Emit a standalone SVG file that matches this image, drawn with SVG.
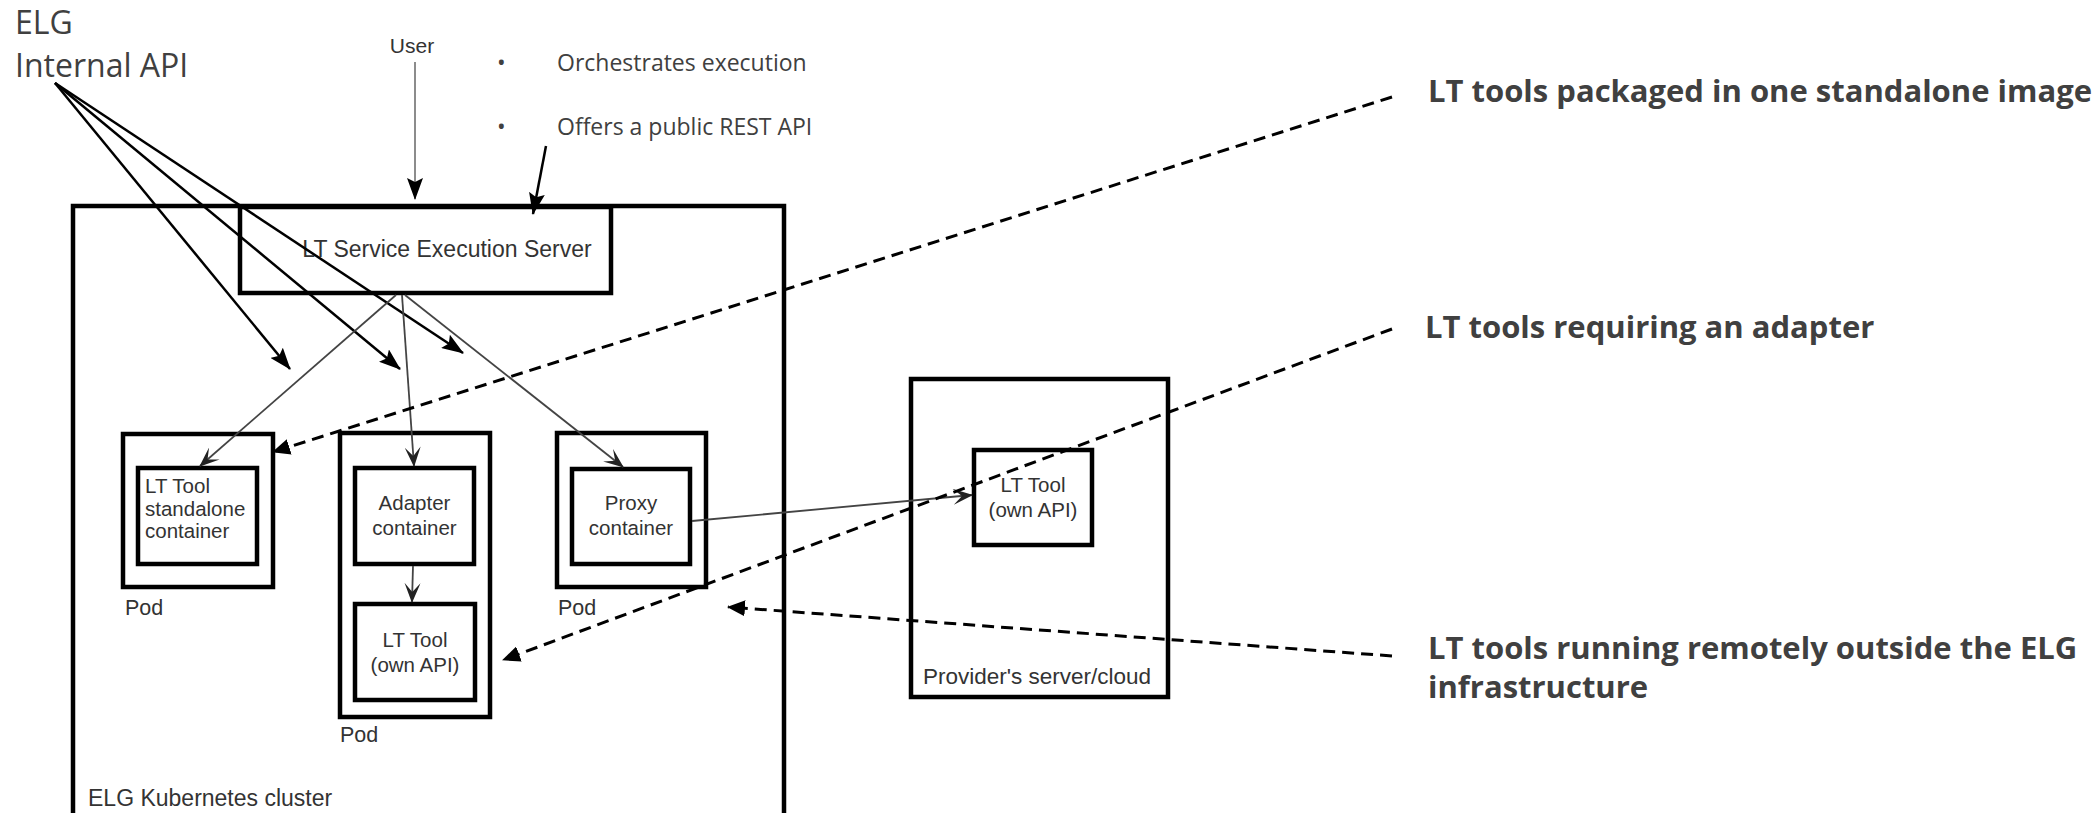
<svg xmlns="http://www.w3.org/2000/svg" width="2098" height="813" viewBox="0 0 2098 813">
<defs>
<style>
.box{fill:none;stroke:#000;stroke-width:4.5}
.dia{font-family:"Liberation Sans",Arial,sans-serif;fill:#333}
.note{font-family:"Open Sans",sans-serif;fill:#404040}
.bold{font-family:"Open Sans",sans-serif;font-weight:bold;fill:#404040;font-size:31px}
.api{stroke:#000;stroke-width:2.5;fill:none}
.flow{stroke:#444;stroke-width:1.8;fill:none}
.dash{stroke:#000;stroke-width:3;fill:none;stroke-dasharray:12 7}
</style>
<marker id="tri" markerUnits="userSpaceOnUse" viewBox="0 0 22 16" markerWidth="22" markerHeight="16" refX="21" refY="8" orient="auto">
<path d="M0,0 L22,8 L0,16 L4,8 Z" fill="#000"/>
</marker>
<marker id="open" markerUnits="userSpaceOnUse" viewBox="0 0 20 16" markerWidth="20" markerHeight="16" refX="19" refY="8" orient="auto">
<path d="M0,0 L20,8 L0,16 L9,8 Z" fill="#222"/>
</marker>
<marker id="dtri" markerUnits="userSpaceOnUse" viewBox="0 0 18 16" markerWidth="18" markerHeight="16" refX="17" refY="8" orient="auto">
<path d="M0,0 L18,8 L0,16 Z" fill="#000"/>
</marker>
</defs>
<rect width="2098" height="813" fill="#fff"/>

<g id="cluster">
<rect class="box" x="73" y="206" width="711" height="650" stroke-width="4"/>
<text class="dia" x="88" y="806" font-size="23">ELG Kubernetes cluster</text>
</g>

<g id="server">
<rect class="box" x="240" y="207" width="371" height="86" stroke-width="5"/>
<text class="dia" x="447" y="257" font-size="23" text-anchor="middle">LT Service Execution Server</text>
</g>

<g id="pod-standalone">
<rect class="box" x="123" y="434" width="150" height="153"/>
<rect class="box" x="138" y="468" width="119" height="96"/>
<text class="dia" x="145" y="493" font-size="20.5">LT Tool</text>
<text class="dia" x="145" y="516" font-size="20.5">standalone</text>
<text class="dia" x="145" y="538" font-size="20.5">container</text>
<text class="dia" x="125" y="615" font-size="21.5">Pod</text>
</g>

<g id="pod-adapter">
<rect class="box" x="340" y="433" width="150" height="284"/>
<rect class="box" x="355" y="468" width="119" height="96"/>
<text class="dia" x="414.5" y="510" font-size="20.5" text-anchor="middle">Adapter</text>
<text class="dia" x="414.5" y="535" font-size="20.5" text-anchor="middle">container</text>
<rect class="box" x="355" y="604" width="120" height="96"/>
<text class="dia" x="415" y="647" font-size="20.5" text-anchor="middle">LT Tool</text>
<text class="dia" x="415" y="672" font-size="20.5" text-anchor="middle">(own API)</text>
<text class="dia" x="340" y="742" font-size="21.5">Pod</text>
</g>

<g id="pod-proxy">
<rect class="box" x="557" y="433" width="149" height="154"/>
<rect class="box" x="572" y="469" width="118" height="95"/>
<text class="dia" x="631" y="510" font-size="20.5" text-anchor="middle">Proxy</text>
<text class="dia" x="631" y="535" font-size="20.5" text-anchor="middle">container</text>
<text class="dia" x="558" y="615" font-size="21.5">Pod</text>
</g>

<g id="provider">
<rect class="box" x="911" y="379" width="257" height="318" stroke-width="4"/>
<rect class="box" x="974" y="450" width="118" height="95"/>
<text class="dia" x="1033" y="492" font-size="20.5" text-anchor="middle">LT Tool</text>
<text class="dia" x="1033" y="517" font-size="20.5" text-anchor="middle">(own API)</text>
<text class="dia" x="923" y="684" font-size="22.5">Provider's server/cloud</text>
</g>

<g id="labels">
<text class="note" x="15" y="34" font-size="32">ELG</text>
<text class="note" x="15" y="77" font-size="32">Internal API</text>
<text class="dia" x="412" y="53" font-size="21" text-anchor="middle">User</text>
<text class="note" x="497" y="71" font-size="23">•</text>
<text class="note" x="557" y="71" font-size="23">Orchestrates execution</text>
<text class="note" x="497" y="135" font-size="23">•</text>
<text class="note" x="557" y="135" font-size="23">Offers a public REST API</text>
<text class="bold" x="1428" y="102">LT tools packaged in one standalone image</text>
<text class="bold" x="1425" y="338">LT tools requiring an adapter</text>
<text class="bold" x="1428" y="659">LT tools running remotely outside the ELG</text>
<text class="bold" x="1428" y="698">infrastructure</text>
</g>

<g id="connectors">
<line x1="415" y1="62" x2="415" y2="199" stroke="#666" stroke-width="1.5" marker-end="url(#tri)"/>
<line class="api" x1="546" y1="146" x2="533" y2="214" marker-end="url(#tri)"/>
<line class="api" x1="55" y1="83" x2="290" y2="369" marker-end="url(#tri)"/>
<line class="api" x1="55" y1="83" x2="400" y2="369" marker-end="url(#tri)"/>
<line class="api" x1="55" y1="83" x2="463" y2="353" marker-end="url(#tri)"/>
<line class="flow" x1="396" y1="295" x2="200" y2="466" marker-end="url(#open)"/>
<line class="flow" x1="402" y1="295" x2="414" y2="466" marker-end="url(#open)"/>
<line class="flow" x1="405" y1="295" x2="623" y2="467" marker-end="url(#open)"/>
<line class="flow" x1="413" y1="566" x2="412" y2="602" marker-end="url(#open)"/>
<line class="flow" x1="692" y1="521" x2="972" y2="495" marker-end="url(#open)"/>
<line class="dash" x1="1392" y1="97" x2="273" y2="452" marker-end="url(#dtri)"/>
<line class="dash" x1="1392" y1="329" x2="503" y2="660" marker-end="url(#dtri)"/>
<line class="dash" x1="1392" y1="656" x2="728" y2="607" marker-end="url(#dtri)"/>
</g>
</svg>
